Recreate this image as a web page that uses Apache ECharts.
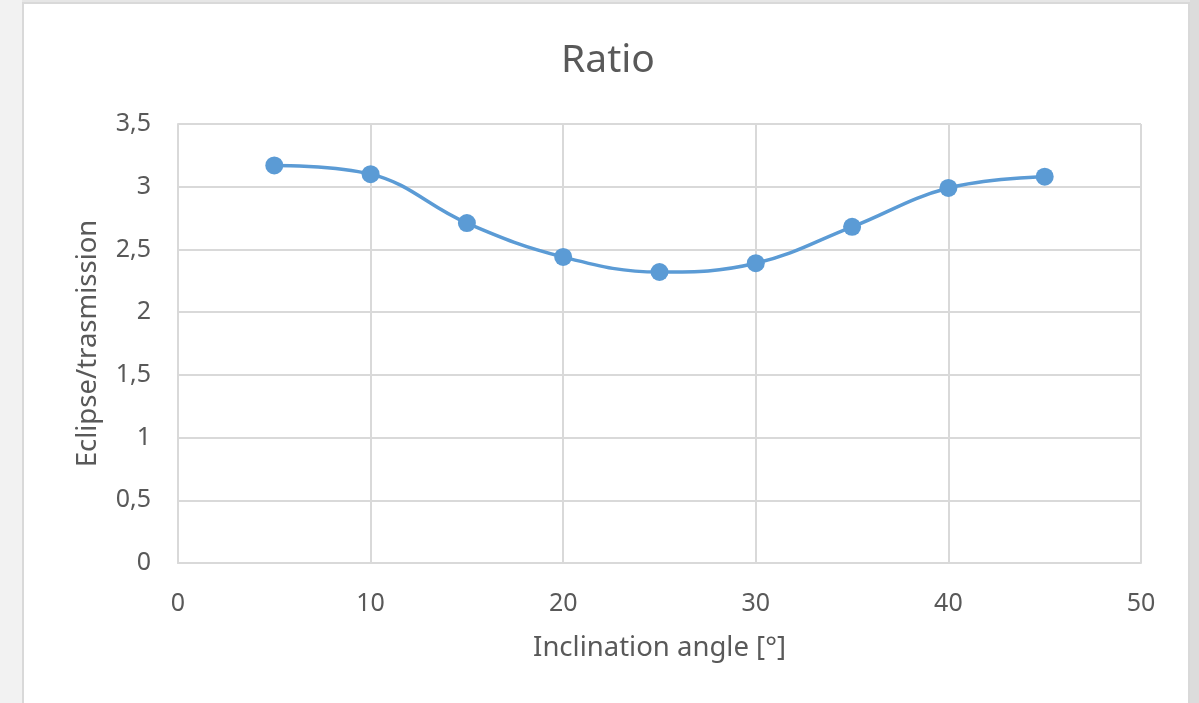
<!DOCTYPE html>
<html>
<head>
<meta charset="utf-8">
<script src="https://cdn.jsdelivr.net/npm/echarts@6/dist/echarts.min.js"></script>
<style>
html,body{margin:0;padding:0;width:1199px;height:703px;overflow:hidden;background:#f2f2f2;}
#frame{position:absolute;left:22px;top:2px;width:1164px;height:720px;background:#fff;border:2px solid #d9d9d9;}
#rightband{position:absolute;left:1190px;top:0;width:9px;height:703px;background:#dcdcdc;}
#topband{position:absolute;left:22px;top:0;width:1177px;height:3px;background:#e6e6e6;}
#chart{position:absolute;left:0;top:0;width:1199px;height:703px;}
</style>
</head>
<body>
<div id="topband"></div>
<div id="rightband"></div>
<div id="frame"></div>
<div id="chart"></div>
<script>
const angles = [5, 10, 15, 20, 25, 30, 35, 40, 45];
const ratios = [3.17, 3.10, 2.71, 2.44, 2.32, 2.39, 2.68, 2.99, 3.08];
const titleText = 'Ratio';
const xName = 'Inclination angle [°]';
const yName = 'Eclipse/trasmission';

const font = '"Noto Sans", "Open Sans", sans-serif';
const txt = '#595959';
const gridCol = '#d9d9d9';

const chart = echarts.init(document.getElementById('chart'), null, {renderer: 'canvas'});
chart.setOption({
  backgroundColor: 'transparent',
  animation: false,
  title: {
    text: titleText, left: 556, top: 36,
    textStyle: {fontFamily: font, fontSize: 39, fontWeight: 'normal', color: txt}
  },
  grid: {left: 178, right: 58, top: 124, bottom: 140},
  xAxis: {
    type: 'value', min: 0, max: 50, interval: 10,
    name: xName, nameLocation: 'middle', nameGap: 71,
    nameTextStyle: {fontFamily: font, fontSize: 27.5, color: txt},
    axisLine: {show: true, lineStyle: {color: gridCol, width: 2}},
    axisTick: {show: false},
    axisLabel: {fontFamily: font, fontSize: 25, color: txt, margin: 28},
    splitLine: {show: true, lineStyle: {color: gridCol, width: 2}}
  },
  yAxis: {
    type: 'value', min: 0, max: 3.5, interval: 0.5,
    name: yName, nameLocation: 'middle', nameGap: 76, nameRotate: 90,
    nameTextStyle: {fontFamily: font, fontSize: 27.5, color: txt},
    axisLine: {show: true, lineStyle: {color: gridCol, width: 2}},
    axisTick: {show: false},
    axisLabel: {fontFamily: font, fontSize: 25, color: txt, margin: 27,
      formatter: v => String(v).replace('.', ',')},
    splitLine: {show: true, lineStyle: {color: gridCol, width: 2}}
  },
  series: [{
    type: 'line',
    data: angles.map((a, i) => [a, ratios[i]]),
    smooth: 0.4,
    symbol: 'circle', symbolSize: 18,
    lineStyle: {color: '#5b9bd5', width: 3.5},
    itemStyle: {color: '#5b9bd5'}
  }]
});
</script>
</body>
</html>
